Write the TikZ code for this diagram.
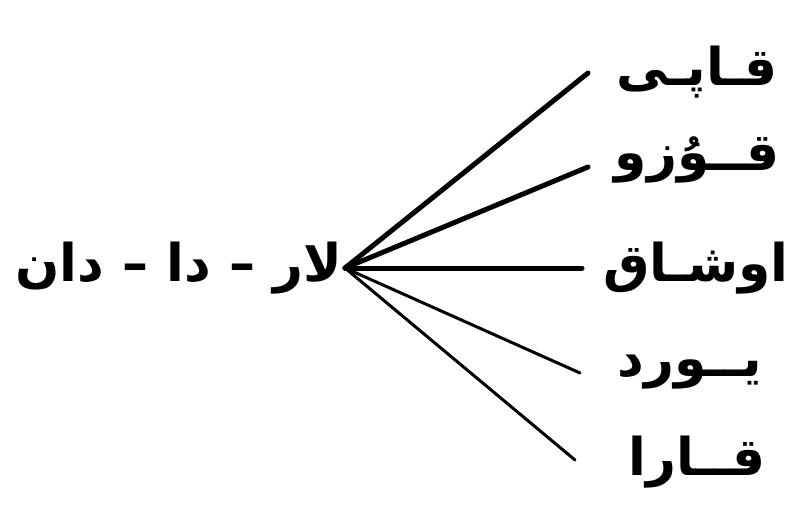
\documentclass[tikz,border=0pt]{standalone}
\usepackage{fontspec}
\TeXXeTstate=1
\newfontfamily\arabicfont[Script=Arabic]{DejaVu Sans}
\begin{document}
\begin{tikzpicture}[x=1pt,y=-1pt,
  word/.style={font=\arabicfont\bfseries\fontsize{52}{56}\selectfont, inner sep=0pt},
  ray/.style={line width=5pt, line cap=round},
  thinray/.style={line width=3pt, line cap=round}]
\useasboundingbox (0,0) rectangle (795,513);
\node[word, anchor=east] (root) at (342,268) {\beginR لار – دا – دان\endR};
\coordinate (hub) at (345,268);
\node[word] (w1) at (697,72) {\beginR قـاپـی\endR};
\node[word] (w2) at (697,160) {\beginR قــوُزو\endR};
\node[word] (w3) at (696,268) {\beginR اوشـاق\endR};
\node[word] (w4) at (690,372) {\beginR یــورد\endR};
\node[word] (w5) at (697,462) {\beginR قــارا\endR};
\coordinate (e1) at (588,73);
\coordinate (e2) at (588,167);
\coordinate (e3) at (582,268);
\coordinate (e4) at (580,373);
\coordinate (e5) at (575,460);
\draw[ray] (hub) -- (e1);
\draw[ray] (hub) -- (e2);
\draw[ray] (hub) -- (e3);
\draw[thinray] (hub) -- (e4);
\draw[thinray] (hub) -- (e5);
\end{tikzpicture}
\end{document}
